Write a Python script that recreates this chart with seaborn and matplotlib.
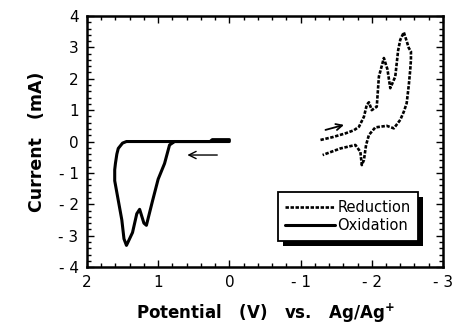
import matplotlib
matplotlib.use("Agg")
import matplotlib.pyplot as plt
import matplotlib.patches as mpatches
import seaborn as sns
import pandas as pd
from matplotlib.ticker import MultipleLocator, FuncFormatter

# ---- data ----
ox_x = [0.0, 0.24, 0.27, 0.77, 0.84, 0.91, 1.0, 1.08, 1.165, 1.2, 1.26, 1.3, 1.36, 1.445,
        1.48, 1.51, 1.55, 1.59, 1.61, 1.61, 1.6, 1.58, 1.56, 1.5, 1.445, 1.0, 0.5, 0.0]
ox_y = [0.06, 0.06, 0.0, 0.0, -0.11, -0.7, -1.2, -1.9, -2.67, -2.6, -2.16, -2.3, -2.9, -3.31,
        -3.1, -2.5, -2.0, -1.5, -1.25, -0.9, -0.7, -0.4, -0.22, -0.05, 0.0, 0.0, 0.0, 0.0]

red_x = [-1.28, -1.45, -1.63, -1.75, -1.82, -1.89, -1.93, -1.96, -2.0, -2.07, -2.10, -2.17,
         -2.22, -2.26, -2.33, -2.37, -2.40, -2.45, -2.49, -2.52, -2.55, -2.55, -2.54, -2.52,
         -2.49, -2.45, -2.40, -2.31, -2.21, -2.05, -1.96, -1.92, -1.89, -1.86, -1.84, -1.77,
         -1.56, -1.31]
red_y = [0.05, 0.14, 0.26, 0.36, 0.47, 0.79, 1.17, 1.25, 1.0, 1.11, 2.07, 2.66,
         2.3, 1.70, 2.07, 2.9, 3.24, 3.48, 3.2, 2.98, 2.87, 2.6, 2.28, 1.8,
         1.22, 0.95, 0.69, 0.42, 0.50, 0.45, 0.21, -0.11, -0.59, -0.75, -0.33, -0.11,
         -0.22, -0.43]

ox_arrow = [(0.17, -0.43), (0.59, -0.43)]     # (tail, head)
red_arrow = [(-1.35, 0.37), (-1.61, 0.53)]

x_ticks = [2, 1, 0, -1, -2, -3]
y_ticks = [-4, -3, -2, -1, 0, 1, 2, 3, 4]

# ---- style ----
sns.set_style("ticks")
plt.rcParams["font.family"] = ["DejaVu Sans"]
plt.rcParams["mathtext.fontset"] = "dejavusans"
plt.rcParams["text.color"] = "black"
plt.rcParams["axes.labelcolor"] = "black"

fig = plt.figure(figsize=(4.6, 3.33), dpi=100)
ax = fig.add_axes([0.189, 0.198, 0.774, 0.754])

df_red = pd.DataFrame({"x": red_x, "y": red_y})
df_ox = pd.DataFrame({"x": ox_x, "y": ox_y})

sns.lineplot(data=df_red, x="x", y="y", sort=False, estimator=None, ax=ax,
             color="black", lw=1.9, linestyle=(0, (1.3, 0.6)), label="Reduction")
sns.lineplot(data=df_ox, x="x", y="y", sort=False, estimator=None, ax=ax,
             color="black", lw=2.2, label="Oxidation")

ax.annotate("", xy=ox_arrow[1], xytext=ox_arrow[0],
            arrowprops=dict(arrowstyle="->", lw=1.0, color="black",
                            mutation_scale=13, shrinkA=0, shrinkB=0))
ax.annotate("", xy=red_arrow[1], xytext=red_arrow[0],
            arrowprops=dict(arrowstyle="->", lw=1.3, color="black",
                            mutation_scale=11, shrinkA=0, shrinkB=0))

ax.set_xlim(2, -3)
ax.set_ylim(-4, 4)
ax.set_xticks(x_ticks)
ax.set_yticks(y_ticks)
ax.xaxis.set_minor_locator(MultipleLocator(0.2))
ax.yaxis.set_minor_locator(MultipleLocator(0.2))

fmt = FuncFormatter(lambda v, p: f"- {abs(v):g}" if v < 0 else f"{v:g}")
ax.xaxis.set_major_formatter(fmt)
ax.yaxis.set_major_formatter(fmt)

ax.tick_params(which="both", direction="in", top=True, right=True,
               color="black", width=1.0, labelsize=11, labelcolor="black")
ax.tick_params(which="major", length=5, pad=6)
ax.tick_params(which="minor", length=3)
for s in ax.spines.values():
    s.set_linewidth(1.8)
    s.set_color("black")
    s.set_visible(True)

ax.set_xlabel(r"Potential   (V)   vs.   Ag/Ag$^{\mathbf{+}}$", fontsize=12,
              fontweight="bold", labelpad=8, color="black")
ax.set_ylabel("Current   (mA)", fontsize=12.5, fontweight="bold", labelpad=9,
              color="black")

leg = ax.legend(loc="lower right", bbox_to_anchor=(0.930, 0.105), fontsize=10.5,
                frameon=True, fancybox=False, edgecolor="black", shadow=False,
                handlelength=3.4, handletextpad=0.2, borderpad=0.5,
                labelspacing=0.25, borderaxespad=0)
leg.get_frame().set_linewidth(1.3)
leg.get_frame().set_alpha(1.0)
for t in leg.get_texts():
    t.set_color("black")

# solid black drop shadow behind the legend box
fig.canvas.draw()
bb = leg.get_window_extent()
shadow = mpatches.Rectangle((bb.x0 + 5, bb.y0 - 5), bb.width, bb.height,
                            transform=None, facecolor="black", edgecolor="none",
                            zorder=leg.get_zorder() - 0.1)
ax.add_artist(shadow)

fig.savefig("out.png", dpi=100)
